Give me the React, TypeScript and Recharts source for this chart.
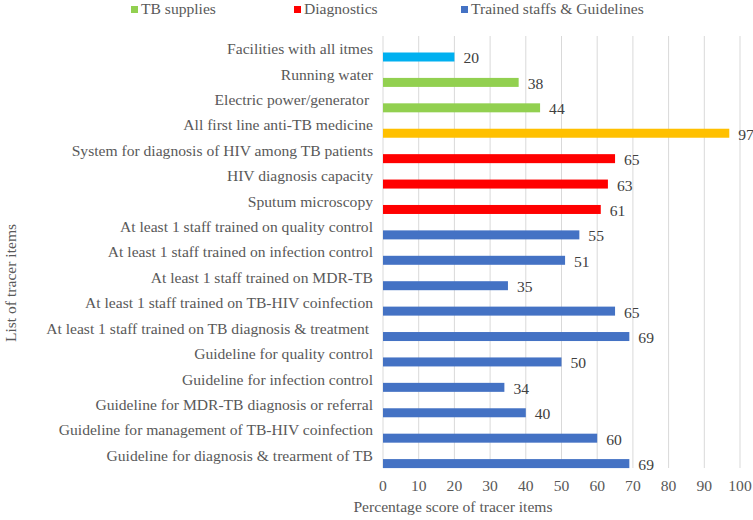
import React from "react"
import { BarChart, Bar, XAxis, YAxis, CartesianGrid, Cell, LabelList } from "recharts"

const items = [
    "Facilities with all itmes",
    "Running water",
    "Electric power/generator ",
    "All first line anti-TB medicine",
    "System for diagnosis of HIV among TB patients",
    "HIV diagnosis capacity",
    "Sputum microscopy",
    "At least 1 staff trained on quality control",
    "At least 1 staff trained on infection control",
    "At least 1 staff trained on MDR-TB",
    "At least 1 staff trained on TB-HIV coinfection",
    "At least 1 staff trained on TB diagnosis & treatment ",
    "Guideline for quality control",
    "Guideline for infection control",
    "Guideline for MDR-TB diagnosis or referral",
    "Guideline for management of TB-HIV coinfection",
    "Guideline for diagnosis & trearment of TB",
]

const scores = [20, 38, 44, 97, 65, 63, 61, 55, 51, 35, 65, 69, 50, 34, 40, 60, 69]

const groups = [
    "all", "supplies", "supplies", "medicine", "diagnostics", "diagnostics", "diagnostics",
    "staff", "staff", "staff", "staff", "staff", "staff", "staff", "staff", "staff", "staff",
]

const xTicks = [0, 10, 20, 30, 40, 50, 60, 70, 80, 90, 100]

const groupColors: Record<string, string> = {
    all: "#00B0F0",
    supplies: "#92D050",
    medicine: "#FFC000",
    diagnostics: "#FF0000",
    staff: "#4472C4",
}

const legendItems = [
    { label: "TB supplies", color: "#92D050", left: 131 },
    { label: "Diagnostics", color: "#FF0000", left: 294 },
    { label: "Trained staffs & Guidelines", color: "#4472C4", left: 461 },
]

const data = items.map((name, i) => ({ name, score: scores[i], group: groups[i] }))

const FONT = "'Liberation Serif', 'Times New Roman', serif"
const TEXT = "#595959"
const FS = 15.6
const BAR_SHIFT = 8.5

const ItemTick = ({ x, y, payload }: any) => (
    <text x={x} y={y} dy="0.35em" textAnchor="end" fill={TEXT} fontSize={FS} fontFamily={FONT} style={{ whiteSpace: "pre" }}>
        {payload.value}
    </text>
)

const ShiftedBar = (props: any) => (
    <rect x={props.x} y={props.y + BAR_SHIFT} width={props.width} height={props.height} fill={props.fill} />
)

const ValueLabel = ({ x, y, width, height, value }: any) => (
    <text x={x + width + 9} y={y + height / 2 + BAR_SHIFT + 1} dy="0.35em" fill="#404040" fontSize={FS} fontFamily={FONT}>
        {value}
    </text>
)

export default function App() {
    return (
        <div style={{ position: "absolute", left: 0, top: 0, width: 753, height: 520, fontFamily: FONT, background: "#fff" }}>
            {legendItems.map((it) => (
                <div key={it.label} style={{ position: "absolute", top: 0, left: it.left, display: "flex", alignItems: "center", height: 18, color: TEXT, fontSize: FS }}>
                    <span style={{ width: 7, height: 7, background: it.color, marginRight: 3, display: "inline-block" }} />
                    {it.label}
                </div>
            ))}
            <BarChart
                width={753}
                height={520}
                data={data}
                layout="vertical"
                margin={{ top: 36, right: 13, bottom: 0, left: 0 }}
            >
                <CartesianGrid horizontal={false} stroke="#d9d9d9" />
                <XAxis
                    type="number"
                    domain={[0, 100]}
                    ticks={xTicks}
                    axisLine={false}
                    tickLine={false}
                    height={52}
                    tickMargin={6}
                    tick={{ fill: TEXT, fontSize: FS, fontFamily: FONT }}
                />
                <YAxis
                    type="category"
                    dataKey="name"
                    width={383}
                    axisLine={false}
                    tickLine={false}
                    tickMargin={4}
                    interval={0}
                    tick={<ItemTick />}
                />
                <Bar dataKey="score" barSize={9} shape={<ShiftedBar />} isAnimationActive={false}>
                    {data.map((d) => (
                        <Cell key={d.name} fill={groupColors[d.group]} />
                    ))}
                    <LabelList dataKey="score" content={<ValueLabel />} />
                </Bar>
                <text x={453} y={512} textAnchor="middle" fill={TEXT} fontSize={FS} fontFamily={FONT}>
                    Percentage score of tracer items
                </text>
                <text x={16} y={283} textAnchor="middle" fill={TEXT} fontSize={FS} fontFamily={FONT} transform="rotate(-90 16 283)">
                    List of tracer items
                </text>
            </BarChart>
        </div>
    )
}
